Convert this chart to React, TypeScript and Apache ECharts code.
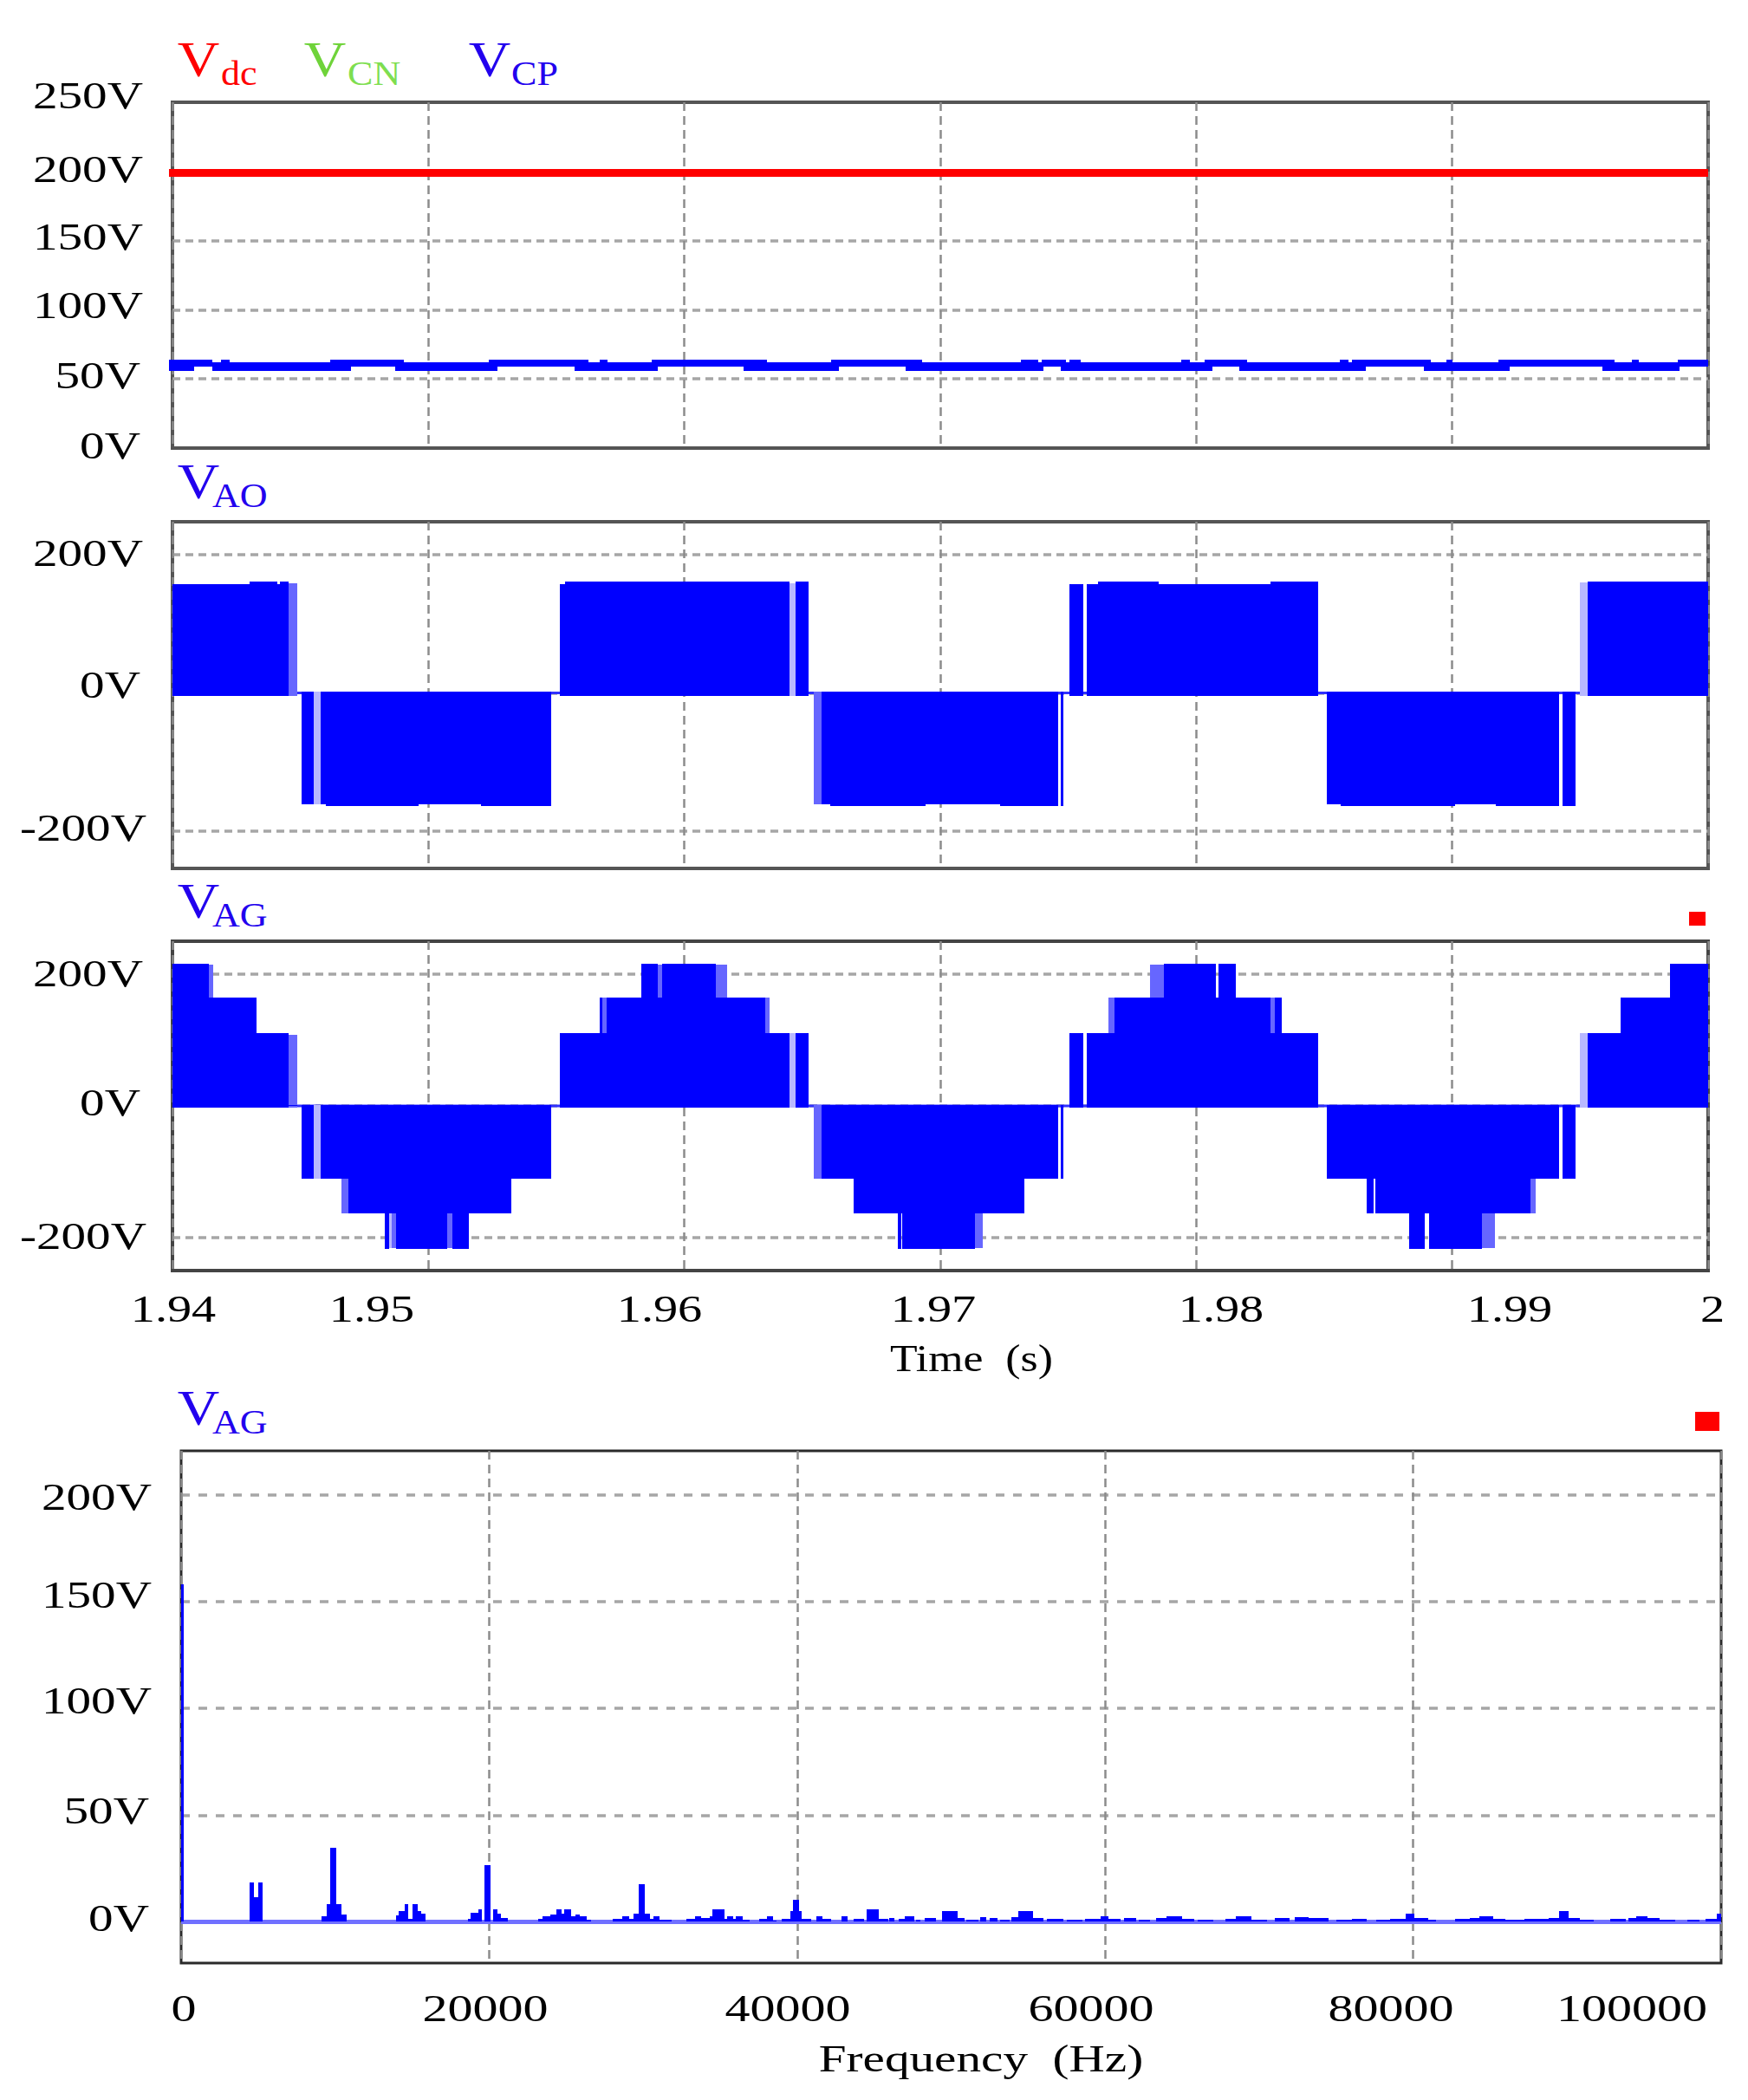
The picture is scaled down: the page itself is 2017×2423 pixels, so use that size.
import React, { useRef, useEffect } from 'react'
import * as echarts from 'echarts'

// every band is [from, to, low, high] or [from, to, level]
const VDC_BANDS = [[1.93985, 2, 196.1, 201.6]]
const VCP_CORE = [[1.93985, 2, 58.7, 61.8]]
const VCP_UPPER_SPANS = [
  [1.93985, 1.94157], [1.9419, 1.94223], [1.94616, 1.94903], [1.95236, 1.95625], [1.95669, 1.95701],
  [1.95874, 1.96323], [1.96573, 1.96929], [1.97315, 1.97381], [1.97396, 1.97491], [1.97505, 1.97549],
  [1.97943, 1.97975], [1.98033, 1.98199], [1.98561, 1.98595], [1.98609, 1.98917], [1.98976, 1.99001],
  [1.99181, 1.99634], [1.99702, 1.99729], [1.99882, 2],
]
const VCP_LOWER_SPANS = [
  [1.93985, 1.94086], [1.94157, 1.94698], [1.9487, 1.9527], [1.95571, 1.95896], [1.96231, 1.96604],
  [1.96863, 1.97402], [1.97471, 1.98063], [1.98168, 1.98662], [1.98889, 1.99225], [1.99587, 1.99888],
]

const VAO_DENSE = [
  [1.94, 1.943, 157], [1.943, 1.9441, 160.5], [1.9441, 1.9442, 157], [1.9442, 1.94454, 160.5],
  [1.94505, 1.94552, -161], [1.94579, 1.946, -161], [1.946, 1.94961, -164], [1.94961, 1.95205, -161], [1.95205, 1.9548, -164],
  [1.95512, 1.95533, 157], [1.95533, 1.9641, 160.5], [1.96436, 1.96485, 160.5],
  [1.96537, 1.9657, -161], [1.9657, 1.96943, -164], [1.96943, 1.97235, -161], [1.97235, 1.97459, -164], [1.9747, 1.97481, -164],
  [1.97503, 1.97558, 157], [1.97573, 1.97617, 157], [1.97617, 1.97854, 160.5], [1.97854, 1.98289, 157], [1.98289, 1.98475, 160.5],
  [1.98509, 1.98563, -161], [1.98563, 1.99011, -164], [1.99011, 1.99171, -161], [1.99171, 1.99418, -164], [1.99431, 1.99483, -164],
  [1.99529, 2, 160.5],
]
const VAO_SPARSE = [[1.94454, 1.94486, 158], [1.96505, 1.96537, -161]]
const VAO_FAINT = [[1.94552, 1.94579, -161], [1.9641, 1.96436, 158], [1.995, 1.99529, 160]]

const VAG_DENSE = [
  [1.94, 1.94142, 215.5], [1.94142, 1.9433, 164], [1.9433, 1.94453, 110.5], [1.94453, 1.94486, 0],
  [1.94505, 1.94553, -110], [1.94579, 1.94687, -110], [1.94687, 1.94831, -163.5], [1.94831, 1.94846, -216.5],
  [1.94846, 1.94872, -163.5], [1.94872, 1.95075, -216.5], [1.95075, 1.95093, -163.5], [1.95093, 1.95157, -216.5],
  [1.95157, 1.95306, -163.5], [1.95306, 1.95323, -163.5], [1.95323, 1.95479, -110],
  [1.95512, 1.95669, 110.5], [1.95669, 1.9568, 164], [1.9568, 1.95697, 110.5], [1.95697, 1.95831, 164], [1.95831, 1.95896, 215.5],
  [1.95896, 1.95913, 164], [1.95913, 1.96123, 215.5], [1.96123, 1.96317, 164], [1.96317, 1.9641, 110.5], [1.96436, 1.96485, 110.5],
  [1.96537, 1.96663, -110], [1.96663, 1.96833, -163.5], [1.96833, 1.96846, -216.5], [1.96846, 1.96851, -163.5],
  [1.96851, 1.97134, -216.5], [1.97134, 1.97327, -163.5], [1.97327, 1.97459, -110], [1.9747, 1.97481, -110],
  [1.97503, 1.97558, 110.5], [1.97573, 1.97682, 110.5], [1.97682, 1.97872, 164], [1.97872, 1.98078, 215.5], [1.98078, 1.98088, 164],
  [1.98088, 1.98155, 215.5], [1.98155, 1.98289, 164], [1.98289, 1.98306, 110.5], [1.98306, 1.98333, 164], [1.98333, 1.98475, 110.5],
  [1.98509, 1.98667, -110], [1.98667, 1.98693, -163.5], [1.98693, 1.987, -110], [1.987, 1.98832, -163.5], [1.98832, 1.98894, -216.5],
  [1.98894, 1.98909, -163.5], [1.98909, 1.99117, -216.5], [1.99117, 1.99307, -163.5], [1.99307, 1.99418, -110], [1.99431, 1.99483, -110],
  [1.99529, 1.99659, 110.5], [1.99659, 1.99852, 164], [1.99852, 2, 215.5],
]
const VAG_SPARSE = [
  [1.94142, 1.9416, 215], [1.94453, 1.94486, 108], [1.94659, 1.94687, -163], [1.94858, 1.94872, -216], [1.95075, 1.95093, -216],
  [1.95291, 1.95306, -163], [1.9568, 1.95697, 164], [1.95896, 1.95913, 215], [1.96123, 1.96166, 215], [1.96317, 1.96332, 164],
  [1.96505, 1.96537, -110], [1.97134, 1.97167, -216], [1.97657, 1.97682, 164], [1.97821, 1.97872, 215], [1.98289, 1.98306, 164],
  [1.99117, 1.99167, -216], [1.99307, 1.99325, -163],
]
const VAG_FAINT = [[1.94553, 1.94579, -110], [1.94846, 1.94858, -216], [1.9641, 1.96436, 110], [1.995, 1.99529, 110]]

// spectrum: [from Hz, to Hz, volts]
const SPECTRUM_BANDS = [
  [0, 170, 158],
  [4426, 4750, 18.4], [4750, 5008, 11.6], [5008, 5299, 18.4],
  [9111, 9434, 2.8], [9434, 9661, 8.3], [9661, 10081, 34.7], [10081, 10404, 8.3], [10404, 10727, 3.6],
  [13958, 14119, 3], [14119, 14507, 5], [14507, 14765, 8.3], [14765, 15024, 1.5], [15024, 15347, 8.3], [15347, 15573, 5], [15573, 15896, 4],
  [18643, 18804, 1.5], [18804, 19289, 4.2], [19289, 19515, 6], [19677, 20097, 26.5], [20258, 20517, 6], [20517, 20743, 4], [20743, 21227, 2],
  [23166, 23489, 1.5], [23489, 23974, 2.8], [23974, 24394, 3.5], [24394, 24717, 6], [24717, 24846, 3.9], [24846, 25331, 6],
  [25331, 25589, 2.8], [25589, 25913, 3.5], [25913, 26333, 2.6], [26333, 26623, 1.2],
  [28013, 28659, 1.5], [28659, 29079, 2.6], [29079, 29370, 1.5], [29370, 29693, 3.9], [29693, 30113, 17.5], [30113, 30436, 3.9],
  [30436, 30662, 1.5], [30662, 31082, 2.6], [31082, 31825, 1.2],
  [32795, 33344, 1.5], [33344, 33764, 2.6], [33764, 34313, 1.8], [34313, 34475, 2.8], [34475, 35283, 6], [35283, 35444, 1.5],
  [35444, 35832, 2.6], [35832, 36026, 1.5], [36026, 36478, 2.6], [36478, 36898, 1.2],
  [37544, 38029, 1.5], [38029, 38416, 2.6], [38416, 38675, 0.8], [38998, 39579, 1.5], [39579, 39741, 4.9], [39741, 40128, 10.3],
  [40128, 40290, 4.9], [40290, 40936, 1.5], [41260, 41648, 2.6], [41648, 42229, 1.5], [42875, 43263, 2.6], [43683, 44329, 1.5],
  [44490, 45300, 6], [45300, 45900, 1.5], [46000, 46300, 2], [46600, 47000, 1.5], [47000, 47600, 2.5], [47700, 48000, 1], [48300, 49000, 1.8],
  [49400, 50400, 5], [50400, 50900, 2], [51000, 51800, 1.2], [51900, 52300, 2.2], [52500, 53000, 1.8], [53200, 53800, 1.2], [53900, 54350, 2.2],
  [54350, 55300, 5], [55300, 56000, 2], [56200, 57300, 1.5], [57500, 58500, 1], [58700, 59700, 1.6], [59700, 60200, 2.5], [60200, 61000, 1.5],
  [61200, 62000, 1.8], [62200, 62900, 1], [63300, 64000, 2], [64000, 65000, 2.6], [65000, 65800, 1.5], [66000, 67000, 1], [67800, 68500, 1.5],
  [68500, 69500, 2.6], [69500, 70500, 1.2], [71000, 72000, 1.7], [72300, 73200, 2.4], [73200, 74500, 2], [75000, 76000, 1.2], [76000, 77000, 1.6],
  [77600, 78500, 1], [78500, 79500, 1.6], [79500, 80100, 4], [80100, 81000, 1.8], [81000, 81500, 1], [82700, 83700, 1.5], [83700, 84300, 2],
  [84300, 85200, 2.8], [85200, 86000, 1.5], [86000, 87200, 1.2], [87200, 88800, 1.5], [88800, 89500, 1.8], [89500, 90100, 5], [90100, 90800, 1.8],
  [90800, 91700, 1.2], [92800, 93800, 1.3], [94000, 94500, 1.8], [94500, 95200, 2.8], [95200, 96000, 1.7], [96000, 97000, 1], [97800, 98600, 1],
  [99000, 99700, 1.5], [99700, 100000, 4],
]

const TIME_TICKS = ['1.94', '1.95', '1.96', '1.97', '1.98', '1.99', '2']
const FREQ_TICKS = ['0', '20000', '40000', '60000', '80000', '100000']
const TOP_TICKS = ['250V', '200V', '150V', '100V', '50V', '0V']
const MID_TICKS = ['200V', '0V', '-200V']
const SPECTRUM_TICKS = ['200V', '150V', '100V', '50V', '0V']

const BLUE = '#0000ff'
const SPARSE_BLUE = '#6666ff'
const FAINT_BLUE = '#b8b8ff'
const SERIF = '"Liberation Serif", serif'

// PWM blocks run from the level back to just past zero
const toBands = (blocks: number[][], floor: number, ceil: number) =>
  blocks.map(([a, b, v]) => (v > 0 ? [a, b, floor, v] : [a, b, v, ceil]))

const bandSeries = (grid: number, bands: number[][], color: string, z = 3) => ({
  type: 'custom',
  xAxisIndex: grid,
  yAxisIndex: grid,
  silent: true,
  z,
  data: bands,
  encode: { x: [0, 1], y: [2, 3] },
  renderItem: (_: any, api: any) => {
    const p0 = api.coord([api.value(0), api.value(3)])
    const p1 = api.coord([api.value(1), api.value(2)])
    // whole pixels, so that touching bands leave no hairline between them
    const x0 = Math.round(p0[0])
    const x1 = Math.round(p1[0])
    const y0 = Math.round(p0[1])
    const y1 = Math.round(p1[1])
    return {
      type: 'rect',
      shape: { x: x0, y: y0, width: Math.max(x1 - x0, 1), height: Math.max(y1 - y0, 1) },
      style: { fill: color },
    }
  },
})

const zeroLine = (grid: number, xs: number[], color: string, width: number) => ({
  type: 'line',
  xAxisIndex: grid,
  yAxisIndex: grid,
  silent: true,
  z: 2,
  showSymbol: false,
  data: xs.map((x) => [x, 0]),
  lineStyle: { color, width },
})

const xAxis = (grid: number, min: number, max: number, interval: number) => ({
  type: 'value',
  gridIndex: grid,
  min,
  max,
  interval,
  axisLine: { show: false },
  axisTick: { show: false },
  axisLabel: { show: false },
  splitLine: { show: true, lineStyle: { color: '#8c8c8c', width: 2.5, type: [10, 6] } },
})

const yAxis = (grid: number, min: number, max: number, ticks: number[], dash: number[]) => ({
  type: 'value',
  gridIndex: grid,
  min,
  max,
  axisLine: { show: false },
  axisTick: { show: false, customValues: ticks },
  axisLabel: { show: false },
  splitLine: { show: true, lineStyle: { color: '#a6a6a6', width: 3.5, type: dash } },
})

const label = (text: string, x: number, y: number, opts: any = {}) => ({
  type: 'text',
  x,
  y,
  scaleX: opts.sx ?? 1.3,
  silent: true,
  z: 10,
  style: {
    text,
    fontFamily: SERIF,
    fontSize: opts.size ?? 44,
    fill: opts.color ?? '#000',
    align: opts.align ?? 'center',
    verticalAlign: 'middle',
  },
})

// a big V with its subscript
const symbolLabel = (sub: string, x: number, y: number, subX: number, color: string, subColor = color) => [
  label('V', x, y, { size: 56, sx: 1.2, color }),
  label(sub, subX, y + 16, { size: 39, sx: 1.13, color: subColor, align: 'left' }),
]

const tickColumn = (ticks: string[], ys: number[], rights: number[]) =>
  ticks.map((t, i) => label(t, rights[i], ys[i], { align: 'right' }))

const tickRow = (ticks: string[], xs: number[], y: number, sx: number) =>
  ticks.map((t, i) => label(t, xs[i], y, { sx }))

export default function App() {
  const chartRef = useRef<HTMLDivElement>(null)

  useEffect(() => {
    if (!chartRef.current) return
    const chart = echarts.init(chartRef.current, null, { renderer: 'svg' })

    chart.setOption({
      animation: false,
      backgroundColor: '#fff',
      grid: [
        { left: 199, top: 118, width: 1772, height: 399, show: true, borderColor: '#555', borderWidth: 4 },
        { left: 199, top: 602, width: 1772, height: 400, show: true, borderColor: '#555', borderWidth: 4 },
        { left: 199, top: 1086, width: 1772, height: 380, show: true, borderColor: '#444', borderWidth: 4 },
        { left: 209, top: 1674, width: 1777, height: 591, show: true, borderColor: '#2a2a2a', borderWidth: 3 },
      ],
      xAxis: [
        xAxis(0, 1.94, 2, 0.01),
        xAxis(1, 1.94, 2, 0.01),
        xAxis(2, 1.94, 2, 0.01),
        xAxis(3, 0, 100000, 20000),
      ],
      yAxis: [
        yAxis(0, 0, 250, [50, 100, 150, 200], [9, 6]),
        yAxis(1, -254, 247.6, [-200, 0, 200], [9, 6]),
        yAxis(2, -250, 250, [-200, 0, 200], [9, 6]),
        yAxis(3, -19.3, 220.7, [0, 50, 100, 150, 200], [10, 10]),
      ],
      series: [
        bandSeries(0, VCP_CORE, '#66dd44', 2),
        bandSeries(0, VCP_CORE, BLUE),
        bandSeries(0, VCP_UPPER_SPANS.map(([a, b]) => [a, b, 61.8, 63.9]), BLUE),
        bandSeries(0, VCP_LOWER_SPANS.map(([a, b]) => [a, b, 55.6, 58.7]), BLUE),
        bandSeries(0, VDC_BANDS, '#ff0000', 4),

        zeroLine(1, [1.94, 2], '#3030ff', 3),
        bandSeries(1, toBands(VAO_FAINT, -5, 2), FAINT_BLUE, 3),
        bandSeries(1, toBands(VAO_SPARSE, -5, 2), SPARSE_BLUE, 3),
        bandSeries(1, toBands(VAO_DENSE, -5, 2), BLUE, 4),

        zeroLine(2, [1.94, 2], '#3030ff', 3),
        bandSeries(2, toBands(VAG_FAINT, -2, 1.5), FAINT_BLUE, 3),
        bandSeries(2, toBands(VAG_SPARSE, -2, 1.5), SPARSE_BLUE, 3),
        bandSeries(2, toBands(VAG_DENSE, -2, 1.5), BLUE, 4),

        zeroLine(3, [0, 100000], '#7070ff', 5),
        bandSeries(3, SPECTRUM_BANDS.map(([a, b, v]) => [a, b, 0, v]), BLUE),
      ],
      graphic: [
        ...symbolLabel('dc', 229, 69, 255, '#ff0000'),
        ...symbolLabel('CN', 375, 69, 401, '#6fd33a', '#7ede50'),
        ...symbolLabel('CP', 565, 69, 590, '#2200ee'),
        ...symbolLabel('AO', 229, 556, 245, '#2200ee'),
        ...symbolLabel('AG', 229, 1040, 245, '#2200ee'),
        ...symbolLabel('AG', 229, 1625, 245, '#2200ee'),

        ...tickColumn(TOP_TICKS, [110, 195, 273, 352, 433, 514], [165, 165, 165, 165, 162, 162]),
        ...tickColumn(MID_TICKS, [638, 790, 955], [165, 162, 169]),
        ...tickColumn(MID_TICKS, [1123, 1272, 1426], [165, 162, 169]),
        ...tickColumn(SPECTRUM_TICKS, [1727, 1840, 1962, 2089, 2213], [175, 175, 175, 172, 172]),

        ...tickRow(TIME_TICKS, [200, 429, 761, 1077, 1409, 1742, 1976], 1510, 1.28),
        label('Time  (s)', 1121, 1567, { size: 45, sx: 1.15 }),
        ...tickRow(FREQ_TICKS, [212, 560, 909, 1259, 1605, 1883], 2317, 1.32),
        label('Frequency  (Hz)', 1132, 2375, { size: 45, sx: 1.27 }),

        { type: 'rect', silent: true, shape: { x: 1949, y: 1052, width: 19, height: 16 }, style: { fill: '#ff0000' } },
        { type: 'rect', silent: true, shape: { x: 1956, y: 1629, width: 28, height: 22 }, style: { fill: '#ff0000' } },
      ],
    })

    return () => {
      chart.dispose()
    }
  }, [])

  return (
    <div
      ref={chartRef}
      style={{ position: 'absolute', left: 0, top: 0, width: '2017px', height: '2423px' }}
    />
  )
}
